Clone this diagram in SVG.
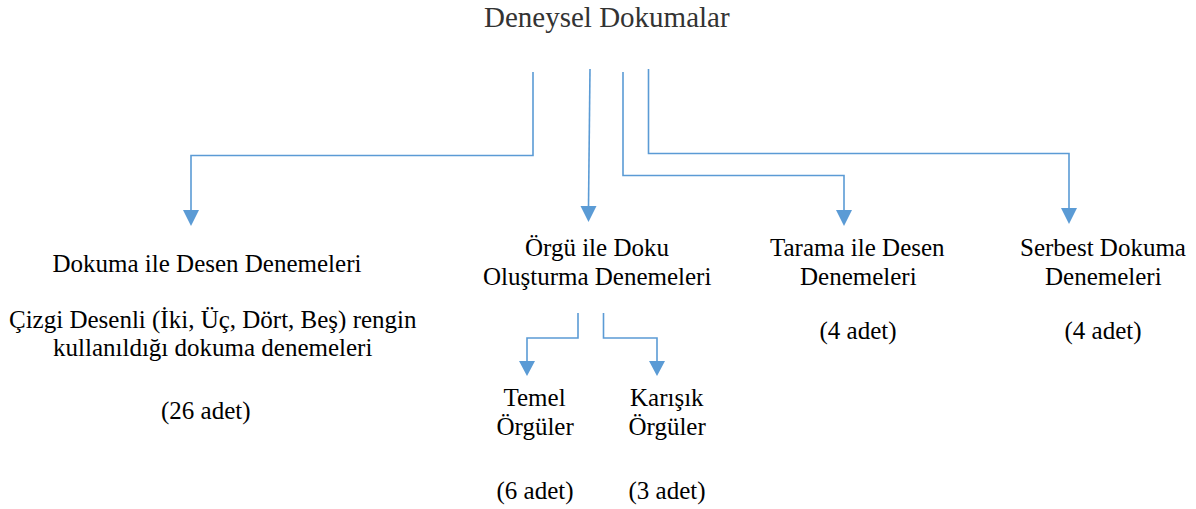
<svg xmlns="http://www.w3.org/2000/svg" width="1196" height="509" viewBox="0 0 1196 509">
<rect width="1196" height="509" fill="#fff"/>
<g id="title"><text x="484" y="27" font-family="Liberation Serif" font-size="29" fill="#333">Deneysel Dokumalar</text></g>
<g id="dokuma">
<text x="52.5" y="272" font-family="Liberation Serif" font-size="25">Dokuma ile Desen Denemeleri</text>
<text x="9" y="328" font-family="Liberation Serif" font-size="25">Çizgi Desenli (İki, Üç, Dört, Beş) rengin</text>
<text x="53" y="356" font-family="Liberation Serif" font-size="25">kullanıldığı dokuma denemeleri</text>
<text x="161" y="419" font-family="Liberation Serif" font-size="25">(26 adet)</text>
</g>
<g id="orgu">
<text x="525" y="256" font-family="Liberation Serif" font-size="25">Örgü ile Doku</text>
<text x="483" y="285" font-family="Liberation Serif" font-size="25">Oluşturma Denemeleri</text>
</g>
<g id="tarama">
<text x="770" y="256" font-family="Liberation Serif" font-size="25">Tarama ile Desen</text>
<text x="800" y="285" font-family="Liberation Serif" font-size="25">Denemeleri</text>
<text x="819.5" y="339" font-family="Liberation Serif" font-size="25">(4 adet)</text>
</g>
<g id="serbest">
<text x="1020" y="256" font-family="Liberation Serif" font-size="25">Serbest Dokuma</text>
<text x="1045" y="285" font-family="Liberation Serif" font-size="25">Denemeleri</text>
<text x="1064.5" y="339" font-family="Liberation Serif" font-size="25">(4 adet)</text>
</g>
<g id="temel">
<text x="503.5" y="406" font-family="Liberation Serif" font-size="25">Temel</text>
<text x="496.5" y="435" font-family="Liberation Serif" font-size="25">Örgüler</text>
<text x="496.5" y="499" font-family="Liberation Serif" font-size="25">(6 adet)</text>
</g>
<g id="karisik">
<text x="630" y="406" font-family="Liberation Serif" font-size="25">Karışık</text>
<text x="628.5" y="435" font-family="Liberation Serif" font-size="25">Örgüler</text>
<text x="628.5" y="499" font-family="Liberation Serif" font-size="25">(3 adet)</text>
</g>
<g id="connectors" fill="none" stroke="#5B9BD5" stroke-width="1.6">
<polyline points="533,72 533,155.5 191,155.5 191,210"/>
<path d="M183,210 L199,210 L191,226 Z" fill="#5B9BD5" stroke="none"/>
<polyline points="590,69 588.5,206"/>
<path d="M580.5,206 L596.5,206 L588.5,222 Z" fill="#5B9BD5" stroke="none"/>
<polyline points="623,72 623,175.5 844,175.5 844,210"/>
<path d="M836,210 L852,210 L844,226 Z" fill="#5B9BD5" stroke="none"/>
<polyline points="648.5,69 648.5,153.5 1069,153.5 1069,208"/>
<path d="M1061,208 L1077,208 L1069,224 Z" fill="#5B9BD5" stroke="none"/>
<polyline points="578,313 578,338 527,338 527,361"/>
<path d="M519,361 L535,361 L527,376 Z" fill="#5B9BD5" stroke="none"/>
<polyline points="603.5,313 603.5,338 657,338 657,361"/>
<path d="M649,361 L665,361 L657,376 Z" fill="#5B9BD5" stroke="none"/>
</g>
</svg>
